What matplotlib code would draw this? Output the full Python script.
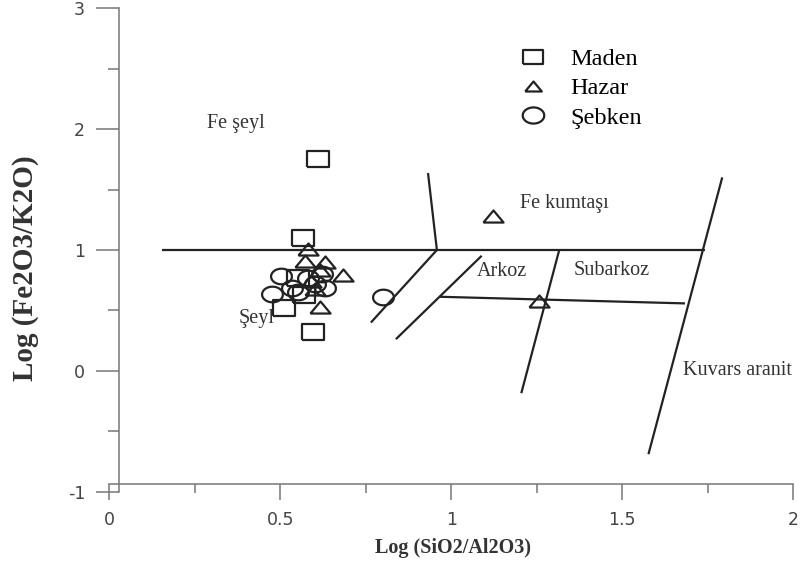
import matplotlib
matplotlib.use("Agg")
import matplotlib.pyplot as plt
from matplotlib.lines import Line2D
from matplotlib.ticker import MultipleLocator
import numpy as np

plt.rcParams["axes.unicode_minus"] = False

# --- sample data: log(SiO2/Al2O3) vs log(Fe2O3/K2O) ---
maden_x = [0.611, 0.565, 0.553, 0.569, 0.510, 0.596]
maden_y = [1.754, 1.096, 0.765, 0.627, 0.523, 0.320]

hazar_x = [1.121, 1.258, 0.582, 0.572, 0.631, 0.682, 0.616, 0.590, 0.600, 0.616]
hazar_y = [1.285, 0.578, 1.005, 0.908, 0.902, 0.792, 0.833, 0.740, 0.680, 0.530]

sebken_x = [0.800, 0.501, 0.475, 0.533, 0.582, 0.623, 0.631, 0.553, 0.600]
sebken_y = [0.610, 0.785, 0.633, 0.689, 0.772, 0.800, 0.689, 0.654, 0.720]

# --- classification field boundaries (Herron 1988 style) ---
boundaries = [
    ((0.155, 1.743), (1.0, 1.0)),      # Fe line
    ((0.932, 0.958), (1.637, 1.0)),    # Fe seyl / Fe kumtasi
    ((0.958, 0.765), (1.0, 0.400)),    # seyl / wacke
    ((1.089, 0.838), (0.952, 0.262)),  # wacke / arkoz
    ((0.967, 1.684), (0.613, 0.558)),  # arkoz bottom
    ((1.316, 1.205), (1.0, -0.185)),   # arkoz / subarkoz
    ((1.793, 1.577), (1.601, -0.690)), # kuvars aranit
]

field_labels = ["Fe şeyl", "Fe kumtaşı", "Arkoz", "Subarkoz", "Kuvars aranit", "Şeyl"]
field_x = [0.285, 1.201, 1.076, 1.357, 1.677, 0.378]
field_y = [2.05, 1.386, 0.82, 0.828, 0.0, 0.436]

# --- marker shapes (wide rectangle, wide triangle, ellipse) ---
rect = [(-1.4, -1), (1.4, -1), (1.4, 1), (-1.4, 1), (-1.4, -1)]
tri = [(-1, -0.6), (1, -0.6), (0, 0.6), (-1, -0.6)]
t = np.linspace(0, 2 * np.pi, 60)
ellipse = list(zip(np.cos(t), 0.75 * np.sin(t)))

serif = ["Liberation Serif", "DejaVu Serif"]
line_col = "#222222"
axis_col = "#777777"

fig = plt.figure(figsize=(8.01, 5.72), dpi=100)
ax = fig.add_axes([0.1367, 0.1404, 0.8533, 0.8451])
ax.set_xlim(0, 2)
ax.set_ylim(-1, 3)

for xs, ys in boundaries:
    ax.plot(xs, ys, color=line_col, lw=1.6, solid_capstyle="butt", zorder=2)

for lab, x, y in zip(field_labels, field_x, field_y):
    ax.text(x, y, lab, family=serif, fontsize=14.5, color="#333333",
            ha="left", va="center")

mk = dict(linestyle="none", markerfacecolor="none", markeredgewidth=1.6,
          markeredgecolor=line_col, zorder=3)
ax.plot(maden_x, maden_y, marker=rect, markersize=16.5, **mk)
ax.plot(hazar_x, hazar_y, marker=tri, markersize=14.5, **mk)
ax.plot(sebken_x, sebken_y, marker=ellipse, markersize=15, **mk)

handles = [
    Line2D([], [], marker=rect, markersize=15, **mk),
    Line2D([], [], marker=tri, markersize=12, **mk),
    Line2D([], [], marker=ellipse, markersize=15.5, **mk),
]
ax.legend(handles, ["Maden", "Hazar", "Şebken"], loc="upper left",
          bbox_to_anchor=(516 / 801, 1 - 48 / 572), bbox_transform=fig.transFigure,
          frameon=False, prop={"family": serif, "size": 17.5},
          handlelength=1.4, handletextpad=0.85, labelspacing=0.3,
          borderpad=0, borderaxespad=0)

# --- axes: offset spines with long outward ticks ---
for s in ["top", "right"]:
    ax.spines[s].set_visible(False)
ax.spines["left"].set_position(("data", 0.028))
ax.spines["bottom"].set_position(("data", -0.938))
ax.spines["left"].set_bounds(-1, 3)
ax.spines["bottom"].set_bounds(0, 2)
for s in ["left", "bottom"]:
    ax.spines[s].set_color(axis_col)
    ax.spines[s].set_linewidth(1.1)

ax.xaxis.set_major_locator(MultipleLocator(0.5))
ax.xaxis.set_minor_locator(MultipleLocator(0.25))
ax.yaxis.set_major_locator(MultipleLocator(1))
ax.yaxis.set_minor_locator(MultipleLocator(0.5))
ax.set_xticks([0, 0.5, 1, 1.5, 2], ["0", "0.5", "1", "1.5", "2"])
ax.tick_params(axis="x", which="major", length=11.5, width=1.1, color=axis_col,
               pad=8, labelsize=12.5, labelcolor="#444444")
ax.tick_params(axis="x", which="minor", length=6.5, width=1.1, color=axis_col)
ax.tick_params(axis="y", which="major", length=16.5, width=1.1, color=axis_col,
               pad=8, labelsize=12.5, labelcolor="#444444")
ax.tick_params(axis="y", which="minor", length=8, width=1.1, color=axis_col)

ax.set_xlabel("Log (SiO2/Al2O3)", family=serif, fontsize=14.5, fontweight="bold",
              color="#333333")
ax.set_ylabel("Log (Fe2O3/K2O)", family=serif, fontsize=21, fontweight="bold",
              color="#333333")
ax.xaxis.set_label_coords(0.5026, -0.1165)
ax.xaxis.label.set_va("center")
ax.yaxis.set_label_coords(-0.1236, 0.4628)
ax.yaxis.label.set_va("center")

fig.savefig("out.png", dpi=100)
